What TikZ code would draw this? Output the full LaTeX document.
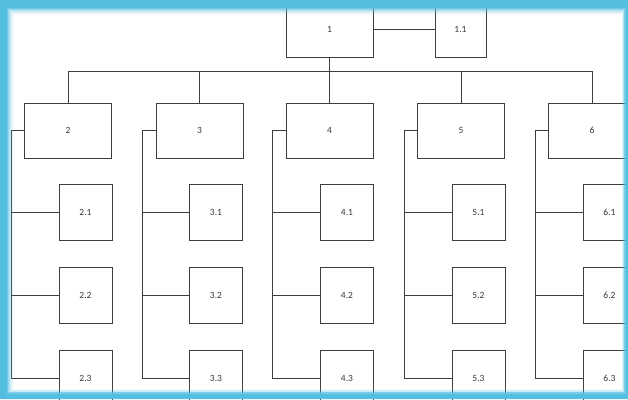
\documentclass[tikz,border=0pt]{standalone}
\usepackage{fontspec}
\setmainfont{Carlito}
\usepackage{tikz}
\usetikzlibrary{positioning}

\definecolor{framebl}{RGB}{84,190,225}
\definecolor{boxline}{RGB}{62,62,62}
\definecolor{boxtext}{RGB}{55,55,55}

\begin{document}
\begin{tikzpicture}[x=1pt, y=-1pt,
    parent/.style={rectangle, draw=boxline, fill=white, line width=0.9pt, text=boxtext, minimum width=87pt, minimum height=55pt, inner sep=0pt, font=\fontsize{9.5}{11}\selectfont},
    child/.style={parent, minimum width=53pt, minimum height=56pt},
    link/.style={draw=boxline, line width=0.9pt}
]
\useasboundingbox (0,0) rectangle (628,399);
\begin{scope}
\clip (0,0) rectangle (628,399);
\fill[white] (0,0) rectangle (628,399);

% Top level
\node[parent] (p1) at (329.5, 29.5) {1};
\node[child, minimum width=51pt, minimum height=55pt] (p11) at (460.5, 29.5) {1.1};

% Second level
\node[parent] (p2) at (68, 130.5) {2};
\node[parent] (p3) at (199.5, 130.5) {3};
\node[parent] (p4) at (329.5, 130.5) {4};
\node[parent] (p5) at (461, 130.5) {5};
\node[parent] (p6) at (592, 130.5) {6};

% Third level
\node[child] (c21) at (85.5, 212) {2.1};
\node[child] (c22) at (85.5, 295.5) {2.2};
\node[child] (c23) at (85.5, 378) {2.3};

\node[child] (c31) at (216, 212) {3.1};
\node[child] (c32) at (216, 295.5) {3.2};
\node[child] (c33) at (216, 378) {3.3};

\node[child] (c41) at (347, 212) {4.1};
\node[child] (c42) at (347, 295.5) {4.2};
\node[child] (c43) at (347, 378) {4.3};

\node[child] (c51) at (478.5, 212) {5.1};
\node[child] (c52) at (478.5, 295.5) {5.2};
\node[child] (c53) at (478.5, 378) {5.3};

\node[child] (c61) at (609.5, 212) {6.1};
\node[child] (c62) at (609.5, 295.5) {6.2};
\node[child] (c63) at (609.5, 378) {6.3};

% Connectors
\draw[link] (p1.east) -- (p11.west);
\draw[link] (p1.south) -- ++(0,14) -| (p2.north);
\draw[link] (p1.south) -- ++(0,14) -| (p3.north);
\draw[link] (p1.south) -- ++(0,14) -| (p4.north);
\draw[link] (p1.south) -- ++(0,14) -| (p5.north);
\draw[link] (p1.south) -- ++(0,14) -| (p6.north);

\draw[link] (p2.west) -- ++(-13,0) |- (c21.west);
\draw[link] (p2.west) -- ++(-13,0) |- (c22.west);
\draw[link] (p2.west) -- ++(-13,0) |- (c23.west);

\draw[link] (p3.west) -- ++(-13,0) |- (c31.west);
\draw[link] (p3.west) -- ++(-13,0) |- (c32.west);
\draw[link] (p3.west) -- ++(-13,0) |- (c33.west);

\draw[link] (p4.west) -- ++(-13,0) |- (c41.west);
\draw[link] (p4.west) -- ++(-13,0) |- (c42.west);
\draw[link] (p4.west) -- ++(-13,0) |- (c43.west);

\draw[link] (p5.west) -- ++(-13,0) |- (c51.west);
\draw[link] (p5.west) -- ++(-13,0) |- (c52.west);
\draw[link] (p5.west) -- ++(-13,0) |- (c53.west);

\draw[link] (p6.west) -- ++(-13,0) |- (c61.west);
\draw[link] (p6.west) -- ++(-13,0) |- (c62.west);
\draw[link] (p6.west) -- ++(-13,0) |- (c63.west);

% Blue frame
\fill[framebl, even odd rule] (0,0) rectangle (628,399) (7,8) rectangle (626,394);
\foreach \k/\o in {0/0.8, 1/0.6, 2/0.45, 3/0.32, 4/0.2, 5/0.11, 6/0.05}
  \draw[framebl, opacity=\o, line width=1pt] (7.5+\k, 8.5+\k) rectangle (625.5-\k*0.6, 393.5-\k*0.7);
\end{scope}
\end{tikzpicture}
\end{document}
